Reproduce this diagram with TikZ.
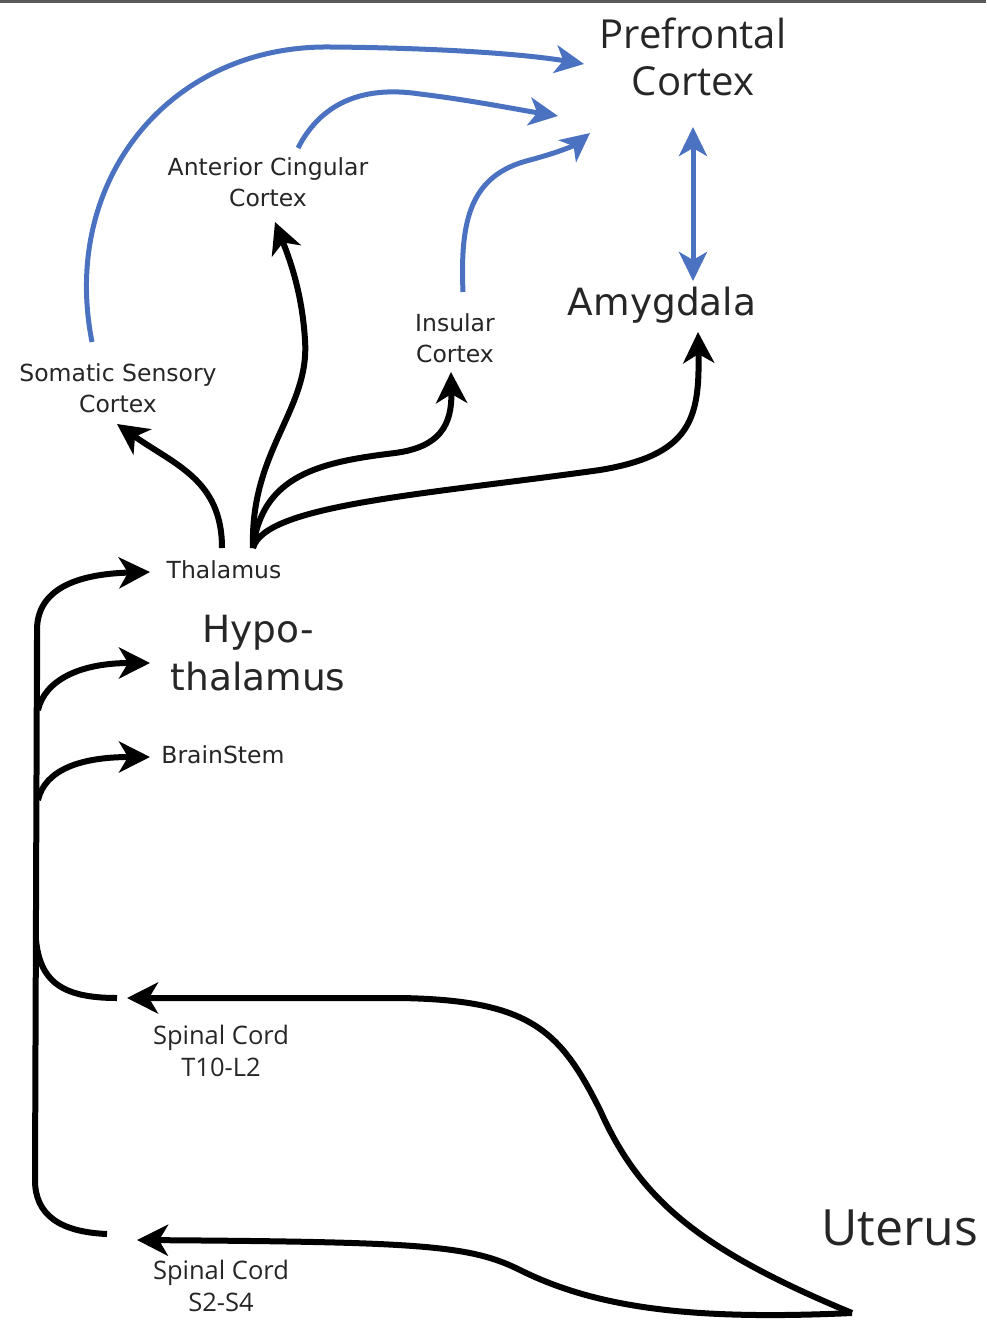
\documentclass[tikz,border=0pt]{standalone}
\usepackage{fontspec}
\setmainfont{Open Sans}
\newfontfamily\widefont{DejaVu Sans}
\usetikzlibrary{arrows.meta}
\definecolor{cortexblue}{HTML}{4A72C0}
\definecolor{labelgray}{HTML}{262626}
\definecolor{rulegray}{HTML}{5A5A5A}

\begin{document}
\begin{tikzpicture}[x=1pt,y=-1pt,
  nerve/.style={line width=6pt, black},
  nervetip/.style={nerve, -{Stealth[length=31pt,width=31pt,inset=9pt]}},
  cortical/.style={line width=5pt, cortexblue, -{Stealth[length=29pt,width=28pt,inset=8pt]}},
  bicortical/.style={line width=5pt, cortexblue, {Stealth[length=29pt,width=28pt,inset=8pt]}-{Stealth[length=29pt,width=28pt,inset=8pt]}},
  lab/.style={align=center, inner sep=0pt, text=labelgray},
  small/.style={lab, font=\widefont\fontsize{23.5}{31}\selectfont},
  big/.style={lab, font=\widefont\fontsize{37.5}{48}\selectfont},
  spinal/.style={lab, font=\fontsize{25.5}{32}\selectfont}
]
\useasboundingbox (0,0) rectangle (986,1322);
\fill[white] (0,0) rectangle (986,1322);
\draw[rulegray, line width=3pt] (0,1.5) -- (986,1.5);

% labels
\node[lab, font=\fontsize{40}{47}\selectfont] (pfc) at (693,57) {Prefrontal\\Cortex};
\node[big] (amy) at (662,305) {Amygdala};
\node[small] (acc) at (268,182) {Anterior Cingular\\Cortex};
\node[small] (ss) at (118,388) {Somatic Sensory\\Cortex};
\node[small] (ins) at (455,338) {Insular\\Cortex};
\node[small] (thal) at (224,570) {Thalamus};
\node[big] (hypo) at (258,653) {Hypo-\\thalamus};
\node[small] (bs) at (223,755) {BrainStem};
\node[spinal] (sc1) at (221,1051) {Spinal Cord\\T10-L2};
\node[spinal] (sc2) at (221,1286) {Spinal Cord\\S2-S4};
\node[lab, font=\fontsize{50}{56}\selectfont] (ut) at (900,1228) {Uterus};

% connector end points
\coordinate (thalL) at (222,548);
\coordinate (thalR) at (253,548);
\coordinate (ssTip) at (117,424);
\coordinate (accTip) at (275,222);
\coordinate (insTip) at (451,372);
\coordinate (amyTip) at (698,332);
\coordinate (ssTop) at (92,342);
\coordinate (accTop) at (298,148);
\coordinate (insTop) at (463,292);
\coordinate (pfcA) at (584,64);
\coordinate (pfcB) at (558,116);
\coordinate (pfcC) at (590,133);
\coordinate (pfcBot) at (693,127);
\coordinate (amyTop) at (693,281);
\coordinate (trunkTop) at (37,680);
\coordinate (thalIn) at (150,572);
\coordinate (hypoIn) at (150,663);
\coordinate (bsIn) at (150,757);
\coordinate (t10End) at (117,998);
\coordinate (s2End) at (107,1234);
\coordinate (t10Tip) at (127,998);
\coordinate (s2Tip) at (137,1240);
\coordinate (utTip) at (852,1313);

% thalamic projections to cortex
\draw[nervetip] (thalL) .. controls (222,480) and (175,465) .. (ssTip);
\draw[nervetip] (thalR) .. controls (250,450) and (310,410) .. (305,340)
                        .. controls (302,290) and (288,255) .. (accTip);
\draw[nervetip] (thalR) .. controls (262,475) and (320,462) .. (395,453)
                        .. controls (440,447) and (452,425) .. (insTip);
\draw[nervetip] (thalR) .. controls (265,505) and (420,495) .. (600,470)
                        .. controls (690,455) and (700,420) .. (amyTip);

% cortical projections
\draw[cortical] (ssTop) .. controls (60,180) and (170,45) .. (330,47)
                        .. controls (450,48) and (530,55) .. (pfcA);
\draw[cortical] (accTop) .. controls (320,105) and (360,85) .. (420,94)
                         .. controls (470,100) and (520,110) .. (pfcB);
\draw[cortical] (insTop) .. controls (460,220) and (470,175) .. (530,160)
                         .. controls (560,152) and (575,145) .. (pfcC);
\draw[bicortical] (pfcBot) -- (amyTop);

% ascending spinal trunk
\draw[nervetip] (trunkTop) -- (37,630) .. controls (37,590) and (75,574) .. (thalIn);
\draw[nervetip] (38,710) .. controls (45,680) and (80,663) .. (hypoIn);
\draw[nervetip] (38,800) .. controls (45,770) and (80,757) .. (bsIn);
\draw[nerve] (37,640) -- (35,1180) .. controls (35,1215) and (60,1232) .. (s2End);
\draw[nerve] (36,940) .. controls (40,980) and (60,998) .. (t10End);

% afferents from the uterus
\draw[nervetip] (utTip) .. controls (700,1250) and (640,1200) .. (600,1110)
                        .. controls (560,1030) and (530,1000) .. (400,998)
                        -- (t10Tip);
\draw[nervetip] (utTip) .. controls (700,1320) and (600,1310) .. (520,1270)
                        .. controls (470,1245) and (420,1242) .. (s2Tip);
\end{tikzpicture}
\end{document}
